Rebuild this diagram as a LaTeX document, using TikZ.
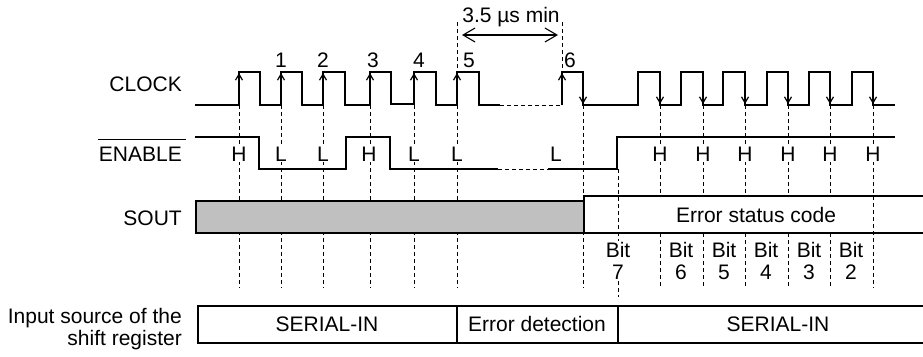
\documentclass[tikz,border=0pt]{standalone}
\usepackage{fontspec}
\setmainfont{Liberation Sans}
\usepackage{xcolor}
\usepackage{tikz}
\usetikzlibrary{arrows.meta}
\definecolor{ink}{HTML}{000000}
\definecolor{shade}{HTML}{C0C0C0}
\tikzset{
  wave/.style={ink, line width=1.2pt},
  guide/.style={ink, line width=0.9pt, dash pattern=on 4pt off 3pt},
  edgeup/.style={ink, line width=1.2pt, -{Straight Barb[length=6pt,width=7pt]}},
  lbl/.style={text=ink, font=\fontsize{21}{22}\selectfont, inner sep=1pt},
}
\begin{document}
\begin{tikzpicture}[x=1pt,y=-1pt]
\useasboundingbox (0,0) rectangle (923,356);
% guides
\foreach \x in {239,281,323,370,414,457,583,873}{
  \draw[guide] (\x,105) -- (\x,288);
}
\foreach \x in {660,703,745,788,830}{
  \draw[guide] (\x,105) -- (\x,196);
  \draw[guide] (\x,233) -- (\x,288);
}
\draw[guide] (457,22) -- (457,72);
\draw[guide] (562,22) -- (562,72);
\draw[guide] (618,169) -- (618,297);
% CLOCK
\draw[wave] (195,105) -- (239,105) -- (239,72) -- (260,72) -- (260,105) -- (281,105) -- (281,72) -- (302,72) -- (302,105) -- (323,105) -- (323,72) -- (345,72) -- (345,105) -- (370,105) -- (370,72) -- (391,72) -- (391,104) -- (414,104) -- (414,72) -- (436,72) -- (436,105) -- (457,105) -- (457,72) -- (479,72) -- (479,105) -- (500,105);
\draw[guide] (500,105) -- (562,105);
\draw[wave] (562,105) -- (562,72) -- (583,72) -- (583,105) -- (638,105) -- (638,72) -- (660,72) -- (660,105) -- (681,105) -- (681,72) -- (703,72) -- (703,105) -- (723,105) -- (723,72) -- (745,72) -- (745,105) -- (767,105) -- (767,72) -- (788,72) -- (788,105) -- (809,105) -- (809,72) -- (830,72) -- (830,105) -- (852,105) -- (852,72) -- (873,72) -- (873,105) -- (895,105);
\foreach \x in {239,281,323,370,414,457,562}{
  \draw[edgeup] (\x,105) -- (\x,73);
}
\foreach \x in {583,660,703,745,788,830,873}{
  \draw[edgeup] (\x,72) -- (\x,104);
}
% ENABLE
\draw[wave] (195,137) -- (259,137) -- (259,169) -- (346,169) -- (346,137) -- (390,137) -- (390,169) -- (498,169);
\draw[guide] (498,169) -- (548,169);
\draw[wave] (548,169) -- (617,169) -- (617,137) -- (895,137);
\foreach \x/\v [count=\i] in {239/H,281/L,323/L,369/H,414/L,457/L,556/L,660/H,703/H,745/H,788/H,830/H,873/H}{
  \node[lbl, fill=white] (lv\i) at (\x,154) {\v};
}
% SOUT
\draw[wave, fill=shade] (196,201) rectangle (584,233);
\draw[wave] (923,196) -- (584,196) -- (584,233) -- (923,233);
\node[lbl] (code) at (756,215) {Error status code};
\node[lbl, fill=white, align=center] (bit7) at (618,261) {Bit\\7};
\foreach \x/\b in {681/6,724/5,766/4,809/3,851/2}{
  \node[lbl, align=center] (bit\b) at (\x,261) {Bit\\\b};
}
% input source
\draw[wave, line width=1.6pt] (923,306) -- (198,306) -- (198,343) -- (923,343);
\draw[wave, line width=1.6pt] (457,306) -- (457,343);
\draw[wave, line width=1.6pt] (618,306) -- (618,343);
\node[lbl] (ser1) at (327,324) {SERIAL-IN};
\node[lbl] (errdet) at (537,324) {Error detection};
\node[lbl] (ser2) at (778,324) {SERIAL-IN};
% left labels
\node[lbl, anchor=east] (clk) at (183,84) {CLOCK};
\node[lbl, anchor=east] (enl) at (183,154) {ENABLE};
\draw[ink, line width=1pt] ([yshift=6pt]enl.north west) -- ([yshift=6pt,xshift=3pt]enl.north east);
\node[lbl, anchor=east] (sout) at (183,218) {SOUT};
\node[lbl, anchor=east, align=right] (src) at (183,329) {Input source of the\\shift register};
% edge numbers
\foreach \x/\n in {281/1,323/2,373/3,419/4,469/5,570/6}{
  \node[lbl] (num\n) at (\x,60) {\n};
}
\coordinate (t5) at (462,35);
\coordinate (t6) at (558,35);
\draw[ink, line width=1.1pt, {Straight Barb[length=12pt,width=14pt]}-{Straight Barb[length=12pt,width=14pt]}] (t5) -- (t6);
\node[lbl] (tmin) at (511,17) {3.5 µs min};
\end{tikzpicture}
\end{document}
